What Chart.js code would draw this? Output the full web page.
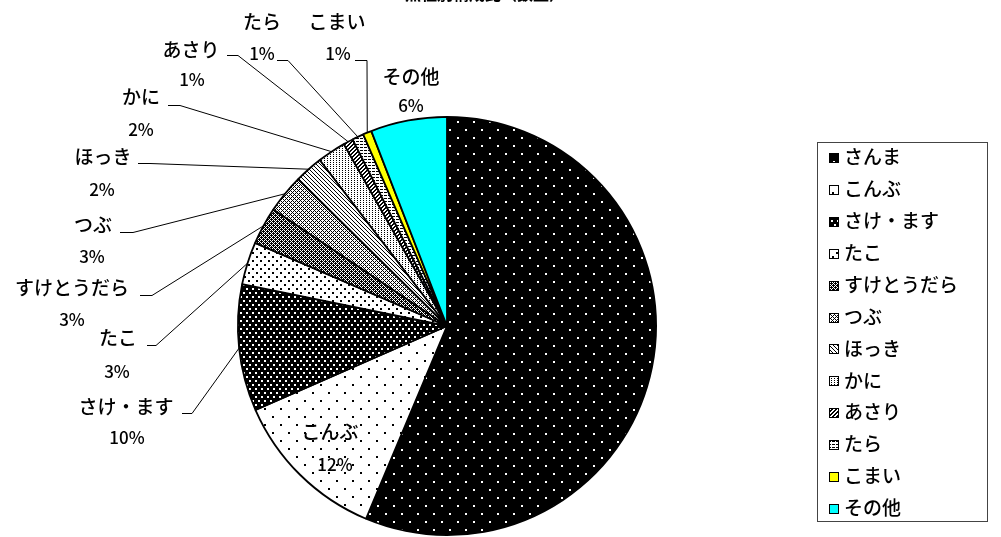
<!DOCTYPE html>
<html lang="ja">
<head>
<meta charset="UTF-8">
<title>魚種別構成比</title>
<script src="https://cdn.jsdelivr.net/npm/chart.js"></script>
<style>
  html, body { margin: 0; padding: 0; background: #fff; }
</style>
</head>
<body>
<canvas id="pieChart" width="1001" height="537"></canvas>
<script>
  // data (share of catch, %)
  const categories = ['さんま', 'こんぶ', 'さけ・ます', 'たこ', 'すけとうだら', 'つぶ', 'ほっき', 'かに', 'あさり', 'たら', 'こまい', 'その他'];
  const shares = [56.4, 12.1, 9.8, 3.3, 2.9, 3.0, 2.2, 2.2, 0.75, 0.9, 0.67, 5.9];
  const chartTitle = '魚種別構成比（数量）';

  const FONT = '"Noto Sans CJK JP", "Noto Sans", sans-serif';

  // label layout: name centre, percent centre, leader elbow [x1, x2, y]
  const labelPos = [
    null,
    { x: 330, y: 432, px: 335, py: 465 },
    { x: 126, y: 407, px: 127, py: 438, elbow: [182, 192, 413] },
    { x: 118, y: 338, px: 117, py: 372, elbow: [147, 156, 345] },
    { x: 72, y: 288, px: 72, py: 320, elbow: [140, 152, 295] },
    { x: 93, y: 225, px: 92, py: 257, elbow: [120, 133, 232] },
    { x: 103, y: 157, px: 102, py: 190, elbow: [138, 150, 163] },
    { x: 141, y: 97, px: 141, py: 130, elbow: [168, 180, 105] },
    { x: 191, y: 50, px: 192, py: 80, elbow: [227, 238, 55] },
    { x: 262, y: 22, px: 262, py: 54, elbow: [277, 288, 60] },
    { x: 337, y: 22, px: 338, py: 54, elbow: [355, 367, 60] },
    { x: 411, y: 77, px: 411, py: 106 }
  ];

  const ctx = document.getElementById('pieChart').getContext('2d');

  function makePattern(w, h, bg, fg, draw) {
    const c = document.createElement('canvas');
    c.width = w; c.height = h;
    const g = c.getContext('2d');
    g.fillStyle = bg;
    g.fillRect(0, 0, w, h);
    g.fillStyle = fg;
    draw(g, w, h);
    return ctx.createPattern(c, 'repeat');
  }

  function pixels(test) {
    return (g, w, h) => {
      for (let x = 0; x < w; x++)
        for (let y = 0; y < h; y++)
          if (test(x, y)) g.fillRect(x, y, 1, 1);
    };
  }

  const fills = [
    makePattern(16, 16, '#000', '#fff', g => { g.fillRect(1, 1, 2, 2); g.fillRect(9, 9, 2, 2); }),
    makePattern(16, 16, '#fff', '#000', g => { g.fillRect(0, 0, 2, 2); g.fillRect(8, 8, 2, 2); }),
    makePattern(6, 8, '#000', '#fff', g => { g.fillRect(0, 0, 2, 2); g.fillRect(3, 4, 2, 2); }),
    makePattern(8, 8, '#fff', '#000', g => { g.fillRect(0, 0, 2, 2); g.fillRect(4, 4, 2, 2); }),
    makePattern(4, 4, '#000', '#fff', pixels((x, y) => (x + y) % 2 === 0 && !(x === 1 && y === 1) && !(x === 3 && y === 3))),
    makePattern(4, 4, '#fff', '#000', pixels((x, y) => (x + y) % 4 === 0 || (x - y + 4) % 4 === 0)),
    makePattern(8, 8, '#fff', '#000', pixels((x, y) => (x - y + 8) % 4 === 0)),
    makePattern(6, 4, '#fff', '#000', pixels((x, y) => x % 3 === 0 && y % 2 === 0)),
    makePattern(8, 8, '#fff', '#000', pixels((x, y) => (x + y) % 4 < 2)),
    makePattern(4, 3, '#fff', '#000', pixels((x, y) => y === 0 && x !== 3)),
    '#ffff00',
    '#00ffff'
  ];

  const labelPlugin = {
    id: 'sliceLabels',
    afterDatasetsDraw(chart) {
      const c = chart.ctx;
      const arcs = chart.getDatasetMeta(0).data;
      const total = shares.reduce((a, b) => a + b, 0);
      c.save();
      c.fillStyle = '#000';
      c.strokeStyle = '#000';
      c.lineWidth = 1;
      c.textAlign = 'center';
      c.textBaseline = 'middle';
      arcs.forEach((arc, i) => {
        const pos = labelPos[i];
        if (!pos) return;
        const p = arc.getProps(['x', 'y', 'startAngle', 'endAngle', 'outerRadius'], true);
        const mid = (p.startAngle + p.endAngle) / 2;
        if (pos.elbow) {
          const ex = p.x + Math.cos(mid) * p.outerRadius;
          const ey = p.y + Math.sin(mid) * p.outerRadius;
          c.beginPath();
          c.moveTo(pos.elbow[0], pos.elbow[2] + 0.5);
          c.lineTo(pos.elbow[1], pos.elbow[2] + 0.5);
          c.lineTo(ex, ey);
          c.stroke();
        }
        c.font = '500 19px ' + FONT;
        c.fillText(categories[i], pos.x, pos.y);
        c.font = '500 17px ' + FONT;
        c.fillText(Math.round(shares[i] / total * 100) + '%', pos.px, pos.py);
      });

      // title, mostly above the picture edge
      c.font = 'bold 16px ' + FONT;
      c.textBaseline = 'bottom';
      c.fillText(chartTitle, 485, 2);

      // legend
      c.strokeStyle = '#444';
      c.strokeRect(817.5, 142.5, 170, 379);
      c.textAlign = 'left';
      c.textBaseline = 'middle';
      c.font = '500 19px ' + FONT;
      categories.forEach((name, i) => {
        const cy = 157 + i * 31.9;
        c.fillStyle = fills[i];
        c.fillRect(829, Math.round(cy) - 4, 10, 10);
        c.strokeStyle = '#000';
        c.strokeRect(829.5, Math.round(cy) - 3.5, 9, 9);
        c.fillStyle = '#000';
        c.fillText(name, 844, cy);
      });
      c.restore();
    }
  };

  new Chart(ctx, {
    type: 'pie',
    data: {
      labels: categories,
      datasets: [{
        data: shares,
        backgroundColor: fills,
        borderColor: '#000',
        borderWidth: 1.8
      }]
    },
    options: {
      responsive: false,
      animation: false,
      layout: { padding: { left: 237, right: 344, top: 116, bottom: 1 } },
      plugins: {
        legend: { display: false },
        tooltip: { enabled: false },
        title: { display: false }
      }
    },
    plugins: [labelPlugin]
  });
</script>
</body>
</html>
